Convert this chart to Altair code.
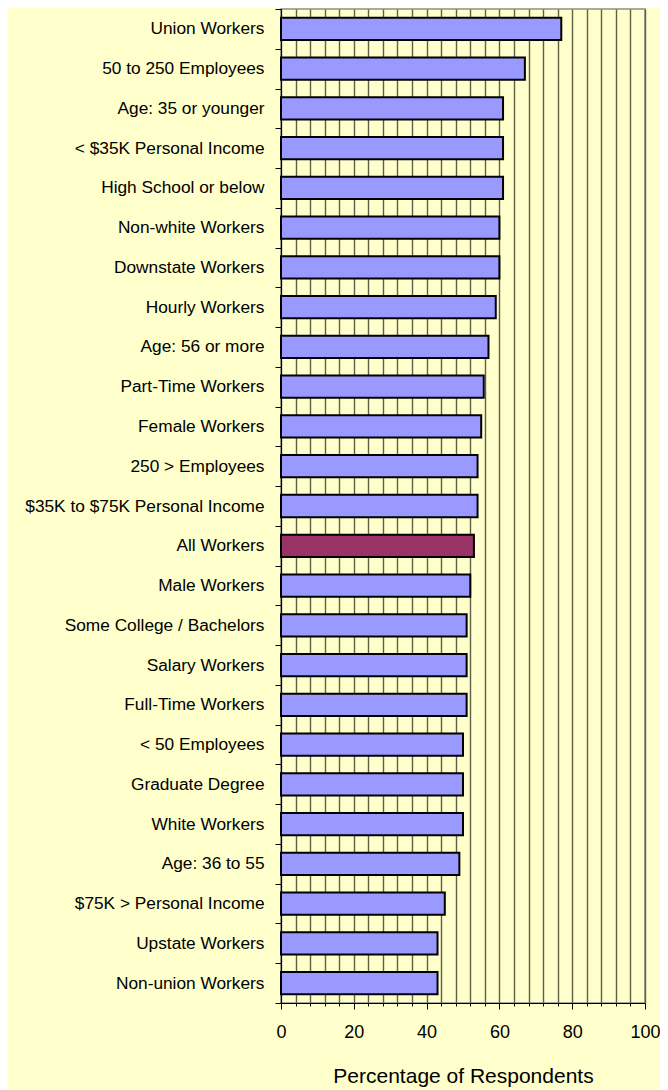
import altair as alt
import pandas as pd

categories = [
    "Union Workers", "50 to 250 Employees", "Age: 35 or younger",
    "< $35K Personal Income", "High School or below", "Non-white Workers",
    "Downstate Workers", "Hourly Workers", "Age: 56 or more",
    "Part-Time Workers", "Female Workers", "250 > Employees",
    "$35K to $75K Personal Income", "All Workers", "Male Workers",
    "Some College / Bachelors", "Salary Workers", "Full-Time Workers",
    "< 50 Employees", "Graduate Degree", "White Workers", "Age: 36 to 55",
    "$75K > Personal Income", "Upstate Workers", "Non-union Workers",
]
values = [77, 67, 61, 61, 61, 60, 60, 59, 57, 55.7, 55, 54, 54, 53, 52,
          51, 51, 51, 50, 50, 50, 49, 45, 43, 43]
highlight = "All Workers"

grid_values = list(range(0, 101, 4))

df = pd.DataFrame({
    "group": categories,
    "pct": values,
    "kind": ["all" if c == highlight else "sub" for c in categories],
})

FONT = "Liberation Sans"
W, H = 364, 994

bars = alt.Chart(df).mark_bar(
    height={"band": 0.56}, stroke="black", strokeWidth=2
).encode(
    y=alt.Y("group:N", sort=categories,
            scale=alt.Scale(paddingInner=0, paddingOuter=0),
            axis=alt.Axis(title=None, tickBand="extent", tickSize=6,
                          tickColor="black", domainColor="black",
                          labelFont=FONT, labelFontSize=17.3,
                          labelColor="black", labelPadding=11,
                          labelLimit=300, grid=False)),
    x=alt.X("pct:Q", scale=alt.Scale(domain=[0, 100], nice=False),
            axis=alt.Axis(values=grid_values, grid=True,
                          gridColor="#606048", gridWidth=1.4,
                          gridOpacity=1,
                          tickColor="black",
                          tickSize={"condition": {"test": "datum.value % 20 === 0", "value": 6}, "value": 3},
                          labelExpr="datum.value % 20 === 0 ? datum.label : ''",
                          labelFont=FONT, labelFontSize=18,
                          labelColor="black", labelPadding=14,
                          labelFlush=False,
                          domainColor="black",
                          title="Percentage of Respondents",
                          titleFont=FONT, titleFontSize=21,
                          titleFontWeight="normal", titleColor="black",
                          titlePadding=24)),
    color=alt.Color("kind:N",
                    scale=alt.Scale(domain=["sub", "all"],
                                    range=["#9999FF", "#993366"]),
                    legend=None),
)

chart = bars.properties(
    width=W, height=H,
    background="#FFFFCC",
    autosize=alt.AutoSizeParams(type="none"),
    padding={"left": 273, "top": 1, "right": 15, "bottom": 86},
).configure_view(
    fill="#FFFFCC", stroke="#8c8c8c", strokeWidth=1.5
)

chart.save("out.html", embed_options={"renderer": "svg", "actions": False})
